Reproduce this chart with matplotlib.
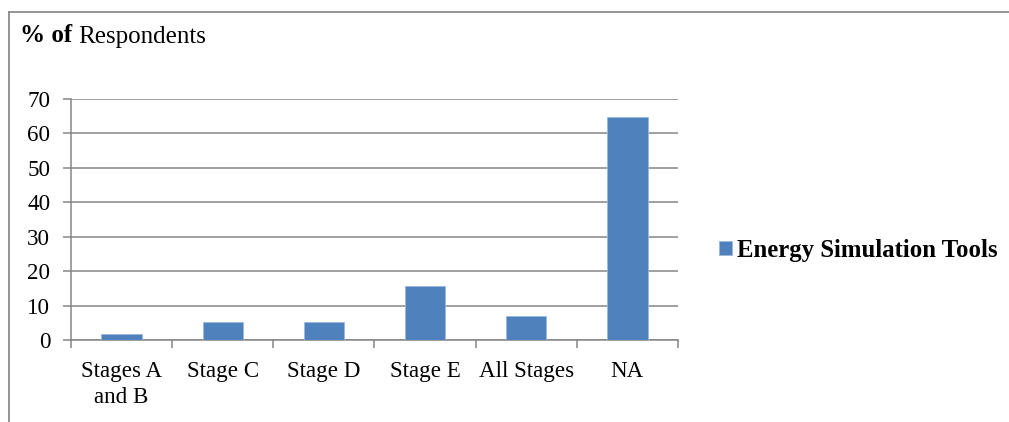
import matplotlib
matplotlib.use("Agg")
import matplotlib.pyplot as plt
from matplotlib.lines import Line2D

# data
categories = ["Stages A\nand B", "Stage C", "Stage D", "Stage E", "All Stages", "NA"]
values = [1.7, 5.2, 5.2, 15.7, 6.9, 64.9]
series_name = "Energy Simulation Tools"
y_ticks = [0, 10, 20, 30, 40, 50, 60, 70]

W, H = 1009, 422
GRAY = "#868686"
BLUE = "#4f81bd"

plt.rcParams["font.family"] = ["Liberation Serif", "DejaVu Serif"]

fig = plt.figure(figsize=(W / 100, H / 100), dpi=100)

# plot area, in pixel terms of the reference
left, right, top, bottom = 71, 678, 99, 340
ax = fig.add_axes([left / W, 1 - bottom / H, (right - left) / W, (bottom - top) / H])

x = list(range(len(categories)))
ax.bar(x, values, width=0.4, color=BLUE, edgecolor="#9bb7dc", linewidth=0.6,
       label=series_name, zorder=3)

ax.set_xlim(-0.5, len(categories) - 0.5)
ax.set_ylim(0, 70)
ax.set_yticks(y_ticks)
ax.yaxis.grid(True, color=GRAY, linewidth=1.1, zorder=0)

ax.set_xticks(x)
ax.set_xticklabels(categories, fontsize=16.6, linespacing=1.3)
ax.set_xticks([i - 0.5 for i in range(len(categories) + 1)], minor=True)
ax.tick_params(axis="x", which="major", length=0, pad=15)
ax.tick_params(axis="x", which="minor", length=6, width=1.1, color=GRAY)
ax.tick_params(axis="y", length=6, width=1.1, color=GRAY, labelsize=16.6, pad=9)

for side in ["top", "right"]:
    ax.spines[side].set_visible(False)
for side in ["left", "bottom"]:
    ax.spines[side].set_color(GRAY)
    ax.spines[side].set_linewidth(1.1)

# title in two weights
t1 = fig.text(20 / W, 1 - 36 / H, "% of", fontsize=18, fontweight="bold", va="center")
ax.annotate("Respondents", xy=(1, 0), xycoords=t1, xytext=(4.5, 0),
            textcoords="offset points", fontsize=18, va="bottom", ha="left")

# legend
fs_leg = 17.8
px = fs_leg * 100 / 72
fig.legend(loc="center left", bbox_to_anchor=(719 / W, 1 - 250 / H), frameon=False,
           borderpad=0, borderaxespad=0, handlelength=13 / px, handleheight=12 / px,
           handletextpad=5 / px, prop={"size": fs_leg, "weight": "bold"})

# outer chart frame
fig.add_artist(Line2D([9 / W, 1], [1 - 12 / H, 1 - 12 / H], color="#8c8c8c", linewidth=1.3))
fig.add_artist(Line2D([9 / W, 9 / W], [0, 1 - 12 / H], color="#8c8c8c", linewidth=1.3))

fig.savefig("out.png", dpi=100)
